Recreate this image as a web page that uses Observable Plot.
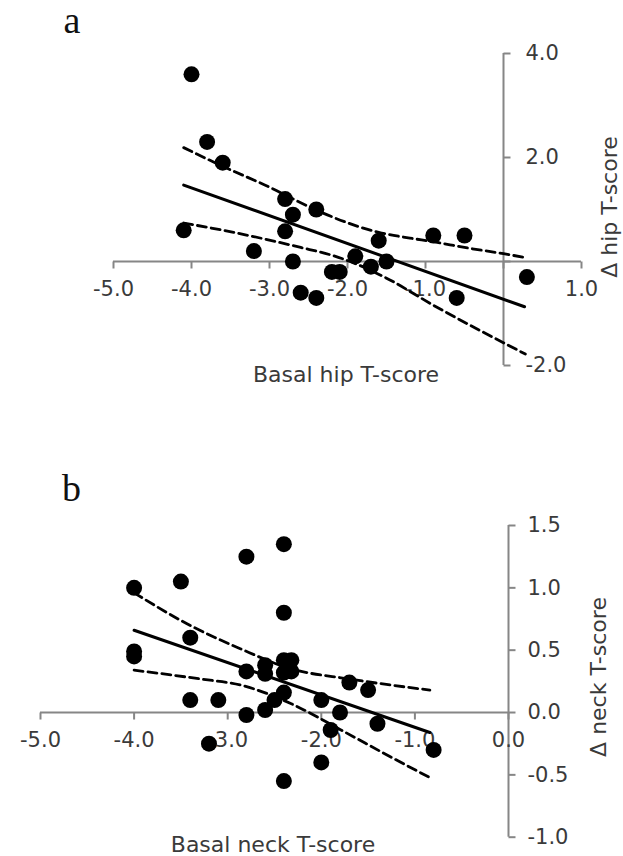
<!DOCTYPE html>
<html><head><meta charset="utf-8">
<script src="https://cdn.jsdelivr.net/npm/d3@7"></script>
<script src="https://cdn.jsdelivr.net/npm/@observablehq/plot@0.6"></script>
<style>
html,body{margin:0;padding:0;background:#fff;}
#chart{width:623px;height:856px;}
#chart svg{display:block;}
</style></head><body><div id="chart"></div>
<script>
// ---------- Panel a: hip ----------
const hipBasal = [-4.0,-3.8,-3.6,-2.8,-2.4,-2.7,-4.1,-2.8,-3.2,-2.7,-2.2,-2.1,-2.6,-2.4,-1.9,-1.7,-1.6,-1.5,-0.9,-0.5,-0.6,0.3];
const hipDelta = [3.6,2.3,1.9,1.2,1.0,0.9,0.6,0.58,0.2,0.0,-0.2,-0.2,-0.6,-0.7,0.1,-0.1,0.4,0.0,0.5,0.5,-0.7,-0.3];
const hipFitX = [-4.1,0.27];
const hipFitY = [1.47,-0.87];
const hipUpperX = [-4.1,-3.6,-3.0,-2.6,-2.2,-1.6,-1.2,-0.9,-0.5,0,0.3];
const hipUpperY = [2.19,1.83,1.43,1.13,0.86,0.56,0.45,0.38,0.27,0.15,0.07];
const hipLowerX = [-4.1,-3.46,-2.6,-2.2,-1.9,-1.5,-0.9,0.28];
const hipLowerY = [0.74,0.56,0.27,0.12,-0.04,-0.32,-0.84,-1.78];
const hipXDomain = [-5,1];
const hipYDomain = [-2,4];
const hipXTicks = [-5,-4,-3,-2,-1,0,1];
const hipXTickLabels = [-5,-4,-3,-2,-1,1];
const hipYTicks = [-2,0,2,4];
const hipYTickLabels = [-2,2,4];

// ---------- Panel b: neck ----------
const neckBasal = [-4.0,-3.5,-2.8,-2.4,-2.4,-3.4,-4.0,-4.0,-2.8,-2.6,-2.6,-2.4,-2.32,-2.4,-2.32,-2.4,-2.5,-2.6,-2.8,-3.4,-3.1,-3.2,-2.0,-1.7,-1.5,-1.8,-1.9,-1.4,-0.8,-2.0,-2.4];
const neckDelta = [1.0,1.05,1.25,1.35,0.8,0.6,0.49,0.45,0.33,0.38,0.31,0.42,0.42,0.32,0.33,0.16,0.10,0.02,-0.02,0.10,0.10,-0.25,0.10,0.24,0.18,0.0,-0.14,-0.09,-0.30,-0.40,-0.55];
const neckFitX = [-4.0,-0.84];
const neckFitY = [0.66,-0.16];
const neckUpperX = [-4.0,-3.43,-2.86,-2.32,-1.71,-0.84];
const neckUpperY = [0.96,0.71,0.51,0.35,0.27,0.18];
const neckLowerX = [-4.0,-3.3,-2.86,-2.32,-1.79,-1.25,-0.82];
const neckLowerY = [0.34,0.27,0.22,0.07,-0.14,-0.36,-0.53];
const neckXDomain = [-5,0];
const neckYDomain = [-1,1.5];
const neckXTicks = [-5,-4,-3,-2,-1,0];
const neckXTickLabels = [-5,-4,-3,-2,-1,0];
const neckYTicks = [-1,-0.5,0,0.5,1,1.5];
const neckYTickLabels = [-1,-0.5,0,0.5,1,1.5];

const axisColor = "#868686";
const textColor = "#3a3a3a";
const sans = "DejaVu Sans, Liberation Sans, sans-serif";
const serif = "Liberation Serif, DejaVu Serif, serif";

const tickDown = {draw(ctx){ ctx.moveTo(0,0); ctx.lineTo(0,7); }};
const tickRight = {draw(ctx){ ctx.moveTo(0,0); ctx.lineTo(7,0); }};

function zip(xs, ys){ return xs.map((x,i)=>({x, y: ys[i]})); }

function panel(o){
  const pts = zip(o.px, o.py);
  return Plot.plot({
    width: 623, height: 428,
    marginLeft: o.ml, marginRight: o.mr, marginTop: o.mt, marginBottom: o.mb,
    x: {domain: o.xDomain, axis: null},
    y: {domain: o.yDomain, axis: null},
    style: {background: "#fff", overflow: "visible"},
    marks: [
      Plot.ruleY([0], {x1: o.xDomain[0], x2: o.xDomain[1], stroke: axisColor, strokeWidth: 2}),
      Plot.ruleX([0], {y1: o.yDomain[0], y2: o.yDomain[1], stroke: axisColor, strokeWidth: 2}),
      Plot.dot(o.xTicks, {x: d=>d, y: 0, symbol: tickDown, stroke: axisColor, strokeWidth: 2, fill: "none"}),
      Plot.dot(o.yTicks, {x: 0, y: d=>d, symbol: tickRight, stroke: axisColor, strokeWidth: 2, fill: "none"}),
      Plot.text(o.xTickLabels, {x: d=>d, y: 0, text: d=>d.toFixed(1), dy: 28, fill: textColor, fontSize: 21, fontFamily: sans}),
      Plot.text(o.yTickLabels, {x: 0, y: d=>d, text: d=>d.toFixed(1), dx: o.yLabelDx, textAnchor: "start", fill: textColor, fontSize: 21, fontFamily: sans}),
      Plot.line(zip(o.upX, o.upY), {x: "x", y: "y", curve: "monotone-x", stroke: "#000", strokeWidth: 2.8, strokeDasharray: "9,5"}),
      Plot.line(zip(o.loX, o.loY), {x: "x", y: "y", curve: "monotone-x", stroke: "#000", strokeWidth: 2.8, strokeDasharray: "9,5"}),
      Plot.line(zip(o.fitX, o.fitY), {x: "x", y: "y", stroke: "#000", strokeWidth: 3}),
      Plot.dot(pts, {x: "x", y: "y", r: 8, fill: "#000"}),
      Plot.text([o.letter], {frameAnchor: "top-left", dx: o.letterDx, dy: o.letterDy, text: d=>d, lineAnchor: "bottom", textAnchor: "middle", fontSize: 38, fontFamily: serif, fill: "#111"}),
      Plot.text([o.xTitle], {frameAnchor: "bottom", dx: o.xTitleDx, dy: o.xTitleDy, text: d=>d, lineAnchor: "bottom", textAnchor: "middle", fontSize: 22, fontFamily: sans, fill: textColor}),
      Plot.text([o.yTitle], {frameAnchor: "right", dx: o.yTitleDx, dy: o.yTitleDy, text: d=>d, rotate: -90, textAnchor: "middle", lineAnchor: "middle", fontSize: 22, fontFamily: sans, fill: textColor})
    ]
  });
}

const chart = document.getElementById("chart");
chart.append(panel({
  px: hipBasal, py: hipDelta, fitX: hipFitX, fitY: hipFitY,
  upX: hipUpperX, upY: hipUpperY, loX: hipLowerX, loY: hipLowerY,
  xDomain: hipXDomain, yDomain: hipYDomain,
  xTicks: hipXTicks, xTickLabels: hipXTickLabels, yTicks: hipYTicks, yTickLabels: hipYTickLabels,
  ml: 113, mr: 42, mt: 53, mb: 63, yLabelDx: 22,
  letter: "a", letterDx: -41.5, letterDy: -21,
  xTitle: "Basal hip T-score", xTitleDx: -1.5, xTitleDy: 16,
  yTitle: "\u0394 hip T-score", yTitleDx: 28, yTitleDy: -2.5
}));
chart.append(panel({
  px: neckBasal, py: neckDelta, fitX: neckFitX, fitY: neckFitY,
  upX: neckUpperX, upY: neckUpperY, loX: neckLowerX, loY: neckLowerY,
  xDomain: neckXDomain, yDomain: neckYDomain,
  xTicks: neckXTicks, xTickLabels: neckXTickLabels, yTicks: neckYTicks, yTickLabels: neckYTickLabels,
  ml: 40, mr: 115, mt: 97, mb: 19.3, yLabelDx: 19,
  letter: "b", letterDx: 31, letterDy: -25,
  xTitle: "Basal neck T-score", xTitleDx: -1.5, xTitleDy: 14.3,
  yTitle: "\u0394 neck T-score", yTitleDx: 90, yTitleDy: -4.35
}));
</script></body></html>
